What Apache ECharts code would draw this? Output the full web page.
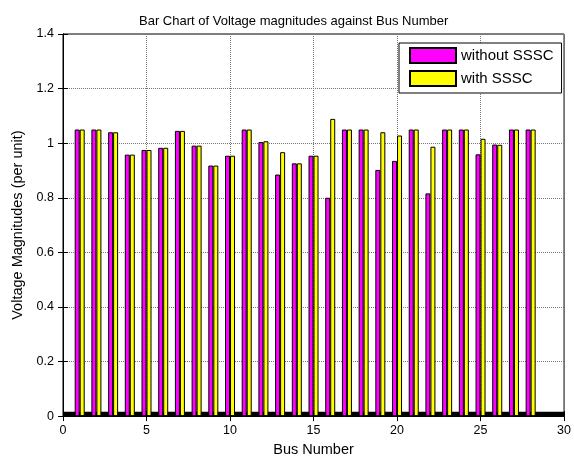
<!DOCTYPE html>
<html>
<head>
<meta charset="utf-8">
<script src="https://cdn.jsdelivr.net/npm/echarts@6/dist/echarts.min.js"></script>
<style>html,body{margin:0;padding:0;background:#fff;}#c{width:574px;height:462px;}</style>
</head>
<body>
<div id="c"></div>
<script>
const busNumbers = [1,2,3,4,5,6,7,8,9,10,11,12,13,14,15,16,17,18,19,20,21,22,23,24,25,26,27,28];
const withoutSSSC = [1.05,1.05,1.04,0.958,0.975,0.983,1.045,0.991,0.918,0.954,1.05,1.004,0.885,0.926,0.954,0.80,1.05,1.05,0.902,0.935,1.05,0.816,1.05,1.05,0.959,0.995,1.05,1.05];
const withSSSC    = [1.05,1.05,1.04,0.958,0.975,0.983,1.045,0.991,0.918,0.954,1.05,1.007,0.967,0.926,0.954,1.089,1.05,1.05,1.04,1.028,1.05,0.987,1.05,1.05,1.016,0.994,1.05,1.05];
const yTicks = [0,0.2,0.4,0.6,0.8,1,1.2,1.4];
const xTicks = [0,5,10,15,20,25,30];
const baselineBand = [0, 0.016];

const font = 'Liberation Sans, Arial, sans-serif';
const chart = echarts.init(document.getElementById('c'), null, {renderer:'canvas'});
const pair = (xs, ys) => xs.map((x,i)=>[x, ys[i]]);

chart.setOption({
  animation:false,
  backgroundColor:'#fff',
  title:{text:'Bar Chart of Voltage magnitudes against Bus Number', left:134, top:10,
    textStyle:{fontFamily:font, fontSize:13, fontWeight:'normal', color:'#000'}},
  grid:{left:63, right:7, top:34, bottom:43, show:true, borderColor:'#000', borderWidth:1, backgroundColor:'#fff'},
  legend:{left:399, top:43, orient:'vertical', itemWidth:46, itemHeight:15, itemGap:6,
    padding:[4,8,6,10], backgroundColor:'#fff', borderColor:'#000', borderWidth:1,
    icon:'rect', textStyle:{fontFamily:font, fontSize:15, color:'#000'},
    data:['without SSSC','with SSSC']},
  xAxis:[{type:'value', min:xTicks[0], max:xTicks[xTicks.length-1], interval:5,
    name:'Bus Number', nameLocation:'middle', nameGap:25,
    nameTextStyle:{fontFamily:font, fontSize:14.5, color:'#000'},
    axisLine:{show:true, onZero:false, lineStyle:{color:'#000'}},
    axisTick:{show:true, inside:true, length:5, lineStyle:{color:'#000'}},
    axisLabel:{fontFamily:font, fontSize:12.5, color:'#000', margin:8},
    splitLine:{show:true, lineStyle:{color:'#777', type:[1,1]}}},
   {type:'value', position:'top', min:0, max:30, interval:5,
    axisLine:{show:true, lineStyle:{color:'#000'}},
    axisTick:{show:true, inside:true, length:5, lineStyle:{color:'#000'}},
    axisLabel:{show:false}, splitLine:{show:false}}],
  yAxis:[{type:'value', min:yTicks[0], max:yTicks[yTicks.length-1], interval:0.2,
    name:'Voltage Magnitudes (per unit)', nameLocation:'middle', nameGap:32,
    nameTextStyle:{fontFamily:font, fontSize:14.5, color:'#000'},
    axisLine:{show:true, lineStyle:{color:'#000'}},
    axisTick:{show:true, inside:true, length:5, lineStyle:{color:'#000'}},
    axisLabel:{fontFamily:font, fontSize:12.5, color:'#000', margin:9,
      formatter:v=>String(Math.round(v*10)/10)},
    splitLine:{show:true, lineStyle:{color:'#777', type:[1,1]}}},
   {type:'value', position:'right', min:0, max:1.4, interval:0.2,
    axisLine:{show:true, lineStyle:{color:'#000'}},
    axisTick:{show:true, inside:true, length:5, lineStyle:{color:'#000'}},
    axisLabel:{show:false}, splitLine:{show:false}}],
  series:[
    {name:'without SSSC', type:'bar', barWidth:5, barGap:'0%',
     itemStyle:{color:'#ff00ff', borderColor:'#000', borderWidth:1},
     data:pair(busNumbers, withoutSSSC),
     markArea:{silent:true, itemStyle:{color:'#000'}, data:[[{yAxis:baselineBand[0]},{yAxis:baselineBand[1]}]]}},
    {name:'with SSSC', type:'bar', barWidth:5, barGap:'0%',
     itemStyle:{color:'#ffff00', borderColor:'#000', borderWidth:1},
     data:pair(busNumbers, withSSSC)}
  ]
});
</script>
</body>
</html>
